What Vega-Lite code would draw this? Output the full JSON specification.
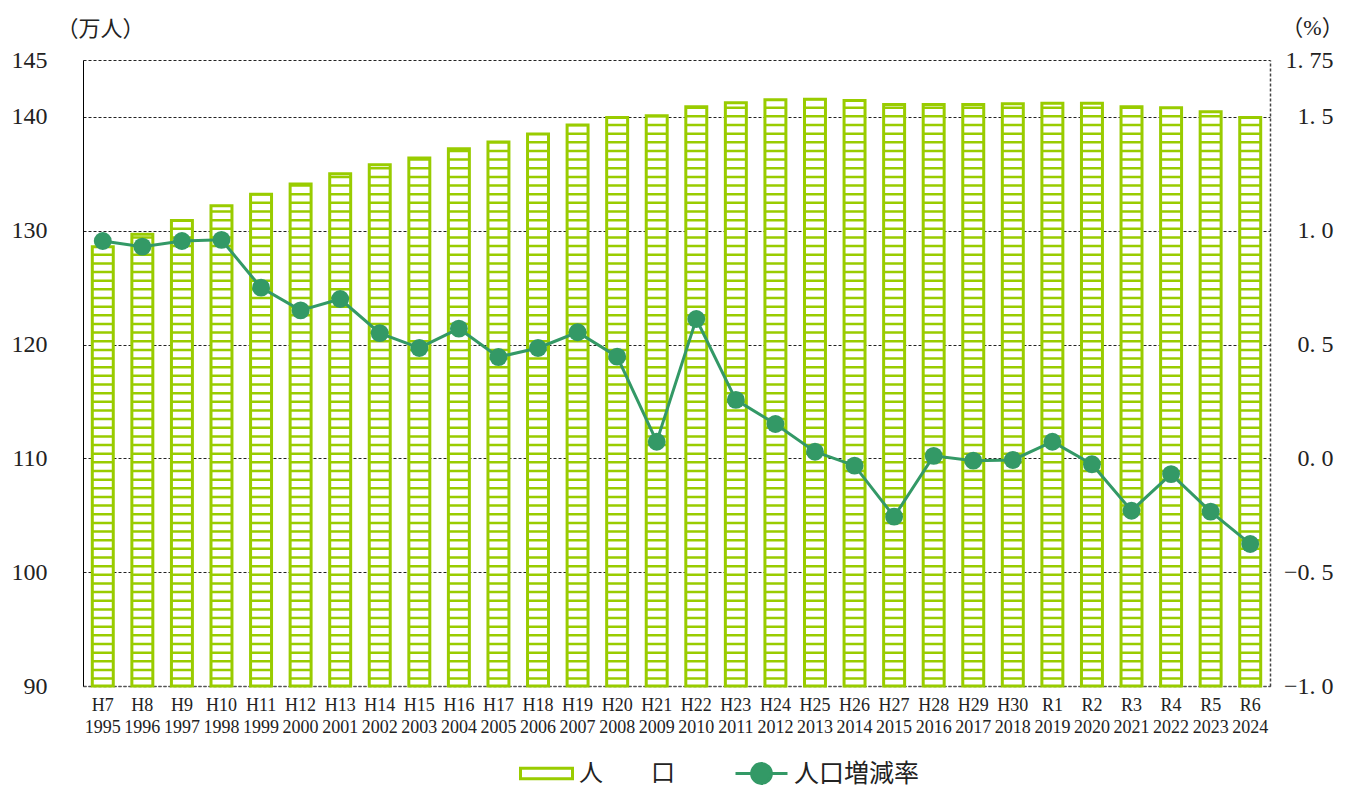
{
  "$schema": "https://vega.github.io/schema/vega-lite/v6.json",
  "width": 1187,
  "height": 626,
  "autosize": "none",
  "padding": {"left": 83, "top": 60, "right": 87, "bottom": 101},
  "background": "#ffffff",
  "config": {
    "view": {"stroke": null},
    "font": "Liberation Serif, Noto Sans CJK JP",
    "axis": {"labelColor": "#222222", "titleColor": "#222222", "titleFontWeight": "normal"},
    "legend": {"labelColor": "#222222"}
  },
  "data": {
    "values": [
      {"period": "H7 1995", "population": 128.6, "rate": 0.955},
      {"period": "H8 1996", "population": 129.7, "rate": 0.93},
      {"period": "H9 1997", "population": 130.9, "rate": 0.955},
      {"period": "H10 1998", "population": 132.2, "rate": 0.96},
      {"period": "H11 1999", "population": 133.2, "rate": 0.75},
      {"period": "H12 2000", "population": 134.1, "rate": 0.65},
      {"period": "H13 2001", "population": 135.0, "rate": 0.70},
      {"period": "H14 2002", "population": 135.8, "rate": 0.55},
      {"period": "H15 2003", "population": 136.4, "rate": 0.485},
      {"period": "H16 2004", "population": 137.2, "rate": 0.57},
      {"period": "H17 2005", "population": 137.8, "rate": 0.445},
      {"period": "H18 2006", "population": 138.5, "rate": 0.485},
      {"period": "H19 2007", "population": 139.3, "rate": 0.554},
      {"period": "H20 2008", "population": 139.95, "rate": 0.447},
      {"period": "H21 2009", "population": 140.1, "rate": 0.073},
      {"period": "H22 2010", "population": 140.9, "rate": 0.612},
      {"period": "H23 2011", "population": 141.25, "rate": 0.257},
      {"period": "H24 2012", "population": 141.5, "rate": 0.151},
      {"period": "H25 2013", "population": 141.55, "rate": 0.029},
      {"period": "H26 2014", "population": 141.45, "rate": -0.032},
      {"period": "H27 2015", "population": 141.1, "rate": -0.256},
      {"period": "H28 2016", "population": 141.1, "rate": 0.011},
      {"period": "H29 2017", "population": 141.1, "rate": -0.010},
      {"period": "H30 2018", "population": 141.15, "rate": -0.007},
      {"period": "R1 2019", "population": 141.2, "rate": 0.073},
      {"period": "R2 2020", "population": 141.2, "rate": -0.026},
      {"period": "R3 2021", "population": 140.9, "rate": -0.230},
      {"period": "R4 2022", "population": 140.8, "rate": -0.069},
      {"period": "R5 2023", "population": 140.45, "rate": -0.234},
      {"period": "R6 2024", "population": 139.95, "rate": -0.376}
    ]
  },
  "encoding": {
    "x": {
      "field": "period",
      "type": "nominal",
      "sort": null,
      "scale": {"paddingInner": 0.47, "paddingOuter": 0.235},
      "axis": {
        "title": null,
        "labelAngle": 0,
        "labelExpr": "split(datum.value, ' ')",
        "ticks": false,
        "domain": true,
        "domainColor": "#555555",
        "domainDash": [3, 2],
        "domainWidth": 1.5,
        "labelFontSize": 18,
        "labelLineHeight": 22,
        "labelPadding": 10,
        "labelBaseline": "top"
      }
    }
  },
  "layer": [
    {
      "layer": [
        {
          "mark": {"type": "bar", "fill": "#ffffff", "strokeWidth": 3},
          "encoding": {
            "y": {
              "field": "population",
              "type": "quantitative",
              "scale": {"domain": [90, 145], "nice": false, "zero": false},
              "axis": {
                "orient": "left",
                "values": [90, 100, 110, 120, 130, 140, 145],
                "title": "（万人）",
                "titleAngle": 0,
                "titleX": 17,
                "titleY": -32,
                "titleAlign": "center",
                "titleBaseline": "middle",
                "titleFontSize": 22,
                "labelFontSize": 24,
                "labelPadding": 36,
                "ticks": false,
                "domain": true,
                "domainColor": "#000000",
                "domainWidth": 1,
                "grid": true,
                "gridColor": "#222222",
                "gridDash": [3, 2],
                "gridWidth": 1,
                "encode": {"labels": {"update": {"dx": {"signal": "datum.value === 145 ? 16 : 0"}}}}
              }
            },
            "y2": {"datum": 90},
            "stroke": {
              "datum": "人　　口",
              "type": "nominal",
              "scale": {"range": ["#99cc00"]},
              "legend": {
                "title": null,
                "orient": "none",
                "legendX": 436,
                "legendY": 686,
                "padding": 0,
                "symbolType": "M-1,-0.2H1V0.2H-1Z",
                "symbolSize": 2704,
                "symbolStrokeWidth": 3,
                "symbolFillColor": "#ffffff",
                "labelFontSize": 24,
                "labelOffset": 5
              }
            }
          }
        },
        {
          "mark": {
            "type": "rule",
            "color": "#99cc00",
            "strokeWidth": 21,
            "strokeDash": [2.5, 6.15],
            "strokeCap": "butt",
            "strokeDashOffset": {"expr": "8.65 - (((datum.population - 90) * 626 / 55) % 8.65)"}
          },
          "encoding": {
            "y": {
              "field": "population",
              "type": "quantitative",
              "axis": {
                "orient": "left",
                "values": [90, 100, 110, 120, 130, 140, 145],
                "title": "（万人）",
                "titleAngle": 0,
                "titleX": 17,
                "titleY": -32,
                "titleAlign": "center",
                "titleBaseline": "middle",
                "titleFontSize": 22,
                "labelFontSize": 24,
                "labelPadding": 36,
                "ticks": false,
                "domain": true,
                "domainColor": "#000000",
                "domainWidth": 1,
                "grid": true,
                "gridColor": "#222222",
                "gridDash": [3, 2],
                "gridWidth": 1,
                "encode": {"labels": {"update": {"dx": {"signal": "datum.value === 145 ? 16 : 0"}}}}
              }
            },
            "y2": {"datum": 90}
          }
        }
      ]
    },
    {
      "layer": [
        {
          "mark": {"type": "line", "strokeWidth": 3},
          "encoding": {
            "y": {
              "field": "rate",
              "type": "quantitative",
              "scale": {"domain": [-1, 1.75], "nice": false, "zero": false},
              "axis": {
                "orient": "right",
                "values": [-1, -0.5, 0, 0.5, 1, 1.5, 1.75],
                "labelExpr": "datum.value === 1.75 ? '1. 75' : replace(format(datum.value, '.1f'), '.', '. ')",
                "title": "（%）",
                "titleAngle": 0,
                "titleX": 42,
                "titleY": -33,
                "titleAlign": "center",
                "titleBaseline": "middle",
                "titleFontSize": 22,
                "labelFontSize": 24,
                "labelAlign": "right",
                "labelPadding": 63,
                "ticks": false,
                "grid": false,
                "domain": true,
                "domainColor": "#444444",
                "domainDash": [3, 2],
                "domainWidth": 1.5,
                "encode": {"labels": {"update": {"dx": {"signal": "datum.value === -1 ? 10 : 0"}}}}
              }
            },
            "stroke": {
              "datum": "人口増減率",
              "type": "nominal",
              "scale": {"range": ["#339966"]},
              "legend": {
                "title": null,
                "orient": "none",
                "legendX": 651,
                "legendY": 686,
                "padding": 0,
                "symbolType": "M-1,0H-0.38M0.38,0H1M0.38,0A0.38,0.38 0 1,1 -0.38,0A0.38,0.38 0 1,1 0.38,0",
                "symbolSize": 2704,
                "symbolStrokeWidth": 3,
                "symbolFillColor": "#339966",
                "labelFontSize": 25,
                "labelOffset": 5
              }
            }
          }
        },
        {
          "mark": {"type": "circle", "size": 320, "color": "#339966", "opacity": 1},
          "encoding": {
            "y": {
              "field": "rate",
              "type": "quantitative",
              "axis": {
                "orient": "right",
                "values": [-1, -0.5, 0, 0.5, 1, 1.5, 1.75],
                "labelExpr": "datum.value === 1.75 ? '1. 75' : replace(format(datum.value, '.1f'), '.', '. ')",
                "title": "（%）",
                "titleAngle": 0,
                "titleX": 42,
                "titleY": -33,
                "titleAlign": "center",
                "titleBaseline": "middle",
                "titleFontSize": 22,
                "labelFontSize": 24,
                "labelAlign": "right",
                "labelPadding": 63,
                "ticks": false,
                "grid": false,
                "domain": true,
                "domainColor": "#444444",
                "domainDash": [3, 2],
                "domainWidth": 1.5,
                "encode": {"labels": {"update": {"dx": {"signal": "datum.value === -1 ? 10 : 0"}}}}
              }
            }
          }
        }
      ]
    }
  ],
  "resolve": {"scale": {"y": "independent", "stroke": "independent"}}
}
